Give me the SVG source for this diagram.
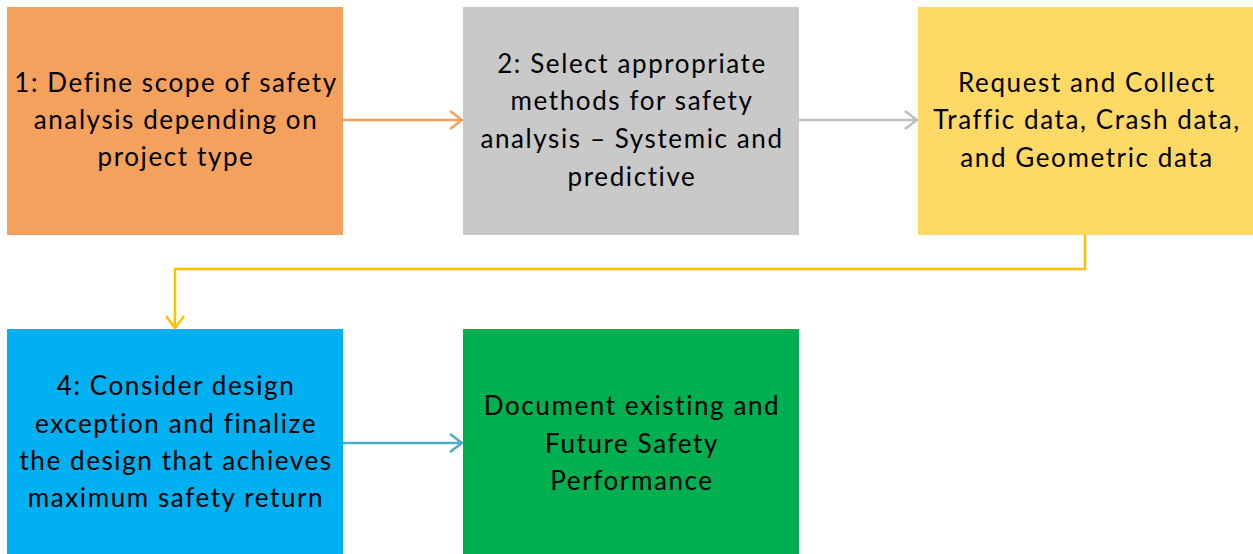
<svg xmlns="http://www.w3.org/2000/svg" width="1253" height="554" viewBox="0 0 1253 554">
<defs>
<style>
text{font-family:Lato,"Liberation Sans",sans-serif;font-size:26px;letter-spacing:1.6px;fill:#000;text-anchor:middle}
.c{fill:none;stroke-width:2.5}
</style>
<marker id="mo" markerUnits="userSpaceOnUse" markerWidth="16" markerHeight="22" refX="14" refY="11" orient="auto"><path d="M2,2 L14,11 L2,20" fill="none" stroke="#F4A15D" stroke-width="2.5"/></marker>
<marker id="mg" markerUnits="userSpaceOnUse" markerWidth="16" markerHeight="22" refX="14" refY="11" orient="auto"><path d="M2,2 L14,11 L2,20" fill="none" stroke="#BFBFBF" stroke-width="2.5"/></marker>
<marker id="my" markerUnits="userSpaceOnUse" markerWidth="16" markerHeight="22" refX="14" refY="11" orient="auto"><path d="M2,2 L14,11 L2,20" fill="none" stroke="#FFC000" stroke-width="2.5"/></marker>
<marker id="mb" markerUnits="userSpaceOnUse" markerWidth="16" markerHeight="22" refX="14" refY="11" orient="auto"><path d="M2,2 L14,11 L2,20" fill="none" stroke="#4BACC6" stroke-width="2.5"/></marker>
</defs>
<rect width="1253" height="554" fill="#fff"/>
<g id="n1"><rect x="7" y="7" width="336" height="228" fill="#F4A15D"/>
<text x="176" y="92">1: Define scope of safety</text><text x="176" y="129">analysis depending on</text><text x="176" y="166">project type</text></g>
<g id="n2"><rect x="463" y="7" width="336" height="228" fill="#C9C9C9"/>
<text x="632" y="73">2: Select appropriate</text><text x="632" y="110">methods for safety</text><text x="632" y="148">analysis – Systemic and</text><text x="632" y="186">predictive</text></g>
<g id="n3"><rect x="918" y="7" width="335" height="228" fill="#FFD966"/>
<text x="1087" y="92">Request and Collect</text><text x="1087" y="129">Traffic data, Crash data,</text><text x="1087" y="167">and Geometric data</text></g>
<g id="n4"><rect x="7" y="329" width="336" height="225" fill="#00B0F0"/>
<text x="176" y="395">4: Consider design</text><text x="176" y="433">exception and finalize</text><text x="176" y="470">the design that achieves</text><text x="176" y="507">maximum safety return</text></g>
<g id="n5"><rect x="463" y="329" width="336" height="225" fill="#00B050"/>
<text x="632" y="415">Document existing and</text><text x="632" y="453">Future Safety</text><text x="632" y="490">Performance</text></g>
<g id="connectors">
<path class="c" d="M343,120 H462" stroke="#F4A15D" marker-end="url(#mo)"/>
<path class="c" d="M799,120 H917" stroke="#BFBFBF" marker-end="url(#mg)"/>
<path class="c" d="M1085,235 V269 H175 V328" stroke="#FFC000" marker-end="url(#my)"/>
<path class="c" d="M343,443 H462" stroke="#4BACC6" marker-end="url(#mb)"/>
</g>
</svg>
